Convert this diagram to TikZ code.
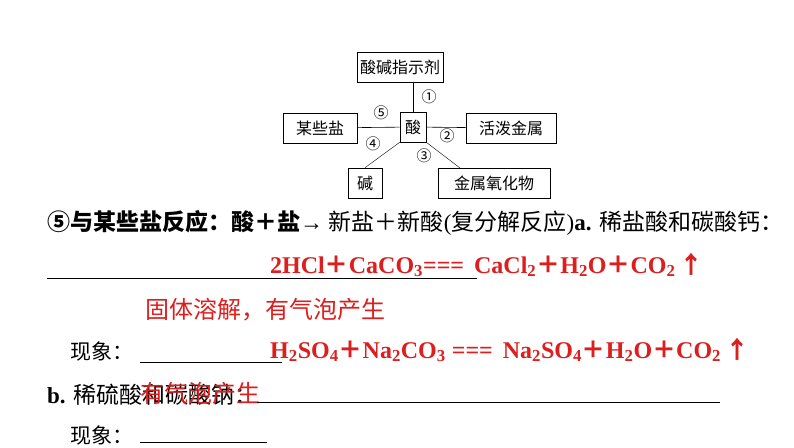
\documentclass[tikz,border=0pt]{standalone}
\usepackage{fontspec}
\setmainfont{Liberation Serif}
\newfontfamily\cjk{Noto Sans CJK SC}
\newcommand{\pl}{{\cjk\bfseries ＋}}
\definecolor{ansred}{RGB}{220,30,30}
\begin{document}
\begin{tikzpicture}[x=1pt, y=-1pt,
    box/.style = {draw=black, semithick, inner sep=2pt, minimum height=30pt,
      font=\cjk\fontsize{16}{18}\selectfont},
    num/.style = {font=\cjk\fontsize{15}{16}\selectfont, inner sep=0pt},
    txt/.style = {anchor=west, inner sep=0pt, font=\fontsize{23}{26}\selectfont},
    ans/.style = {txt, text=ansred, font=\bfseries\fontsize{24}{26}\selectfont},
    note/.style = {txt, text=ansred, font=\cjk\fontsize{24}{26}\selectfont},
    blank/.style = {draw, thick}]
  \useasboundingbox (0,0) rectangle (794,447);
  % diagram
  \node [box, minimum width=86pt] (indicator) at (400,67.5) {酸碱指示剂};
  \node [box, minimum width=74pt] (salt) at (320,128) {某些盐};
  \node [box, minimum width=26pt] (acid) at (413,127) {酸};
  \node [box, minimum width=90pt] (metal) at (511,128) {活泼金属};
  \node [box, minimum width=34pt] (base) at (365,183) {碱};
  \node [box, minimum width=112pt] (oxide) at (494,183) {金属氧化物};
  \coordinate (oxtop) at (460,168);
  \draw [semithick] (acid) -- (indicator.south -| acid);
  \draw [semithick] (acid) -- (salt);
  \draw [semithick] (acid) -- (metal);
  \draw (acid.south west) -- (base.north);
  \draw (acid.south east) -- (oxtop);
  \node [num] (n1) at (429,97) {①};
  \node [num] (n5) at (381,113) {⑤};
  \node [num] (n2) at (447,136) {②};
  \node [num] (n4) at (373,144) {④};
  \node [num] (n3) at (424,156) {③};
  % text lines
  \node [txt] (line1) at (47,223) {{\cjk\bfseries ⑤与某些盐反应：酸＋盐}→ {\cjk 新盐＋新酸}({\cjk 复分解反应})\textbf{a.} {\cjk 稀盐酸和碳酸钙：}};
  \node [ans] (eq1) at (270,265) {2HCl\pl CaCO$_{\mathbf 3}$=== \,CaCl$_{\mathbf 2}$\pl H$_{\mathbf 2}$O\pl CO$_{\mathbf 2}$\,{\cjk ↑}};
  \draw [blank] (47,278) coordinate (u1a) -- (477,278) coordinate (u1b);
  \node [note] (obs1) at (145,310) {固体溶解，有气泡产生};
  \node [txt, font=\cjk\fontsize{21}{24}\selectfont] (lab1) at (70,352) {现象：};
  \draw [blank] (140,362) coordinate (u2a) -- (282,362) coordinate (u2b);
  \node [ans] (eq2) at (270,350) {H$_{\mathbf 2}$SO$_{\mathbf 4}$\pl Na$_{\mathbf 2}$CO$_{\mathbf 3}$ === \,Na$_{\mathbf 2}$SO$_{\mathbf 4}$\pl H$_{\mathbf 2}$O\pl CO$_{\mathbf 2}$\,{\cjk ↑}};
  \node [txt] (line2) at (47,395) {\textbf{b.} {\cjk 稀硫酸和碳酸钠：}};
  \node [note] (obs2) at (140,393) {有气泡产生};
  \draw [blank] (257,402) coordinate (u3a) -- (720,402) coordinate (u3b);
  \node [txt, font=\cjk\fontsize{21}{24}\selectfont] (lab2) at (70,436) {现象：};
  \draw [blank] (140,442) coordinate (u4a) -- (267,442) coordinate (u4b);
\end{tikzpicture}
\end{document}
